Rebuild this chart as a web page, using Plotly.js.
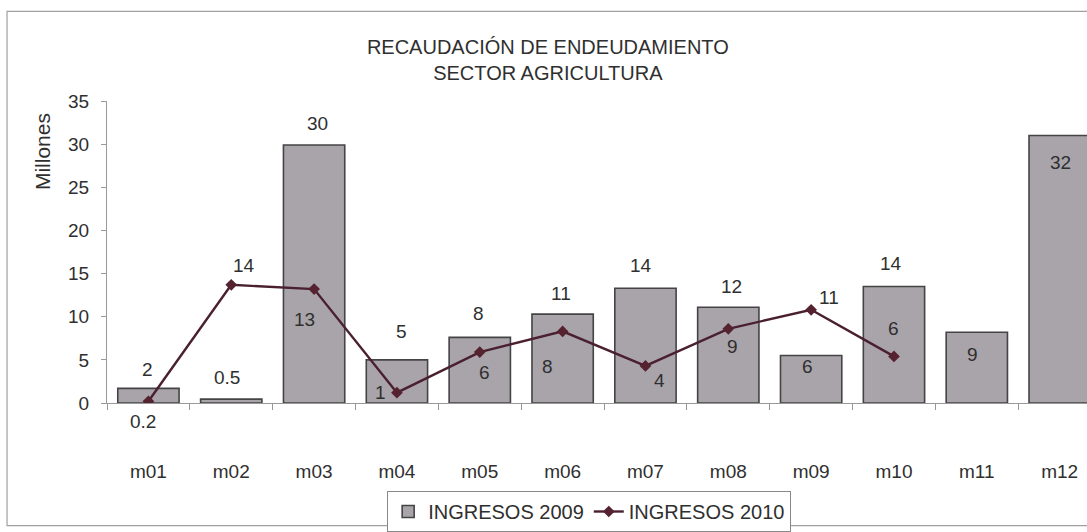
<!DOCTYPE html>
<html>
<head>
<meta charset="utf-8">
<script src="https://cdn.plot.ly/plotly-3.0.1.min.js"></script>
<style>
  html, body { margin: 0; padding: 0; background: #fff; }
  #chart { width: 1087px; height: 532px; }
</style>
</head>
<body>
<div id="chart"></div>
<script>
// ---- data ----
const months = ['m01','m02','m03','m04','m05','m06','m07','m08','m09','m10','m11','m12'];
const ingresos2009 = [1.7, 0.45, 29.9, 5.0, 7.6, 10.3, 13.3, 11.1, 5.5, 13.5, 8.2, 31.0];
const labels2009 = ['2','0.5','30','5','8','11','14','12','6','14','9','32'];
const months2010 = ['m01','m02','m03','m04','m05','m06','m07','m08','m09','m10'];
const ingresos2010 = [0.2, 13.7, 13.2, 1.2, 5.9, 8.3, 4.3, 8.6, 10.8, 5.4];
const labels2010 = ['0.2','14','13','1','6','8','4','9','11','6'];
const yTicks = [0, 5, 10, 15, 20, 25, 30, 35];

// ---- label offsets (px) ----
const off2009x = [-1, -4, 3, 5, -1, -2, -4, 3, -4, -3, -4, 1];
const off2009y = [19, 22, 22, 28, 24, 21, 23, 21, -11, 23, -22, -27];
const off2010x = [-5, 13, -10, -16, 5, -15, 14, 4, 18, 0];
const off2010y = [-20, 19, -30, 0, -20, -35, -15, -18, 12, 28];

const FONT = 'Liberation Sans, Arial, sans-serif';
const TXT = '#2f2f2f';

const traces = [
  {
    type: 'bar', name: 'INGRESOS 2009', x: months, y: ingresos2009,
    marker: { color: '#a9a4aa', line: { color: '#444', width: 1.6 } },
    hoverinfo: 'x+y'
  },
  {
    type: 'scatter', mode: 'lines+markers', name: 'INGRESOS 2010',
    x: months2010, y: ingresos2010,
    line: { color: '#4a2030', width: 2.4 },
    marker: { symbol: 'diamond', size: 9, color: '#55222f' },
    hoverinfo: 'x+y'
  }
];

const annotations = [];
months.forEach((m, i) => annotations.push({
  x: m, y: ingresos2009[i], xref: 'x', yref: 'y', text: labels2009[i],
  showarrow: false, xshift: off2009x[i], yshift: off2009y[i],
  font: { family: FONT, size: 19, color: TXT }
}));
months2010.forEach((m, i) => annotations.push({
  x: m, y: ingresos2010[i], xref: 'x', yref: 'y', text: labels2010[i],
  showarrow: false, xshift: off2010x[i], yshift: off2010y[i],
  font: { family: FONT, size: 19, color: TXT }
}));
annotations.push({
  xref: 'paper', yref: 'paper', x: -0.066, y: 0.832, xanchor: 'center', yanchor: 'middle',
  text: 'Millones', textangle: -90, showarrow: false,
  font: { family: FONT, size: 21, color: TXT }
});

const layout = {
  width: 1087, height: 532,
  paper_bgcolor: '#fff', plot_bgcolor: '#fff',
  margin: { l: 107, r: 0, t: 101, b: 128 },
  font: { family: FONT, color: TXT },
  title: {
    text: 'RECAUDACIÓN DE ENDEUDAMIENTO<br>SECTOR AGRICULTURA',
    font: { family: FONT, size: 20, color: '#2f2f2f' },
    x: 0.504, xanchor: 'center', xref: 'container',
    y: 0.898, yanchor: 'top', yref: 'container'
  },
  bargap: 0.26,
  showlegend: true,
  legend: {
    orientation: 'h', x: 0.492, xanchor: 'center', y: -0.29, yanchor: 'top',
    bordercolor: '#888', borderwidth: 1, bgcolor: '#fff',
    font: { family: FONT, size: 20, color: TXT }
  },
  xaxis: {
    type: 'category', range: [-0.5, 11.33],
    showline: true, linecolor: '#999', linewidth: 1,
    ticks: 'outside', ticklen: 6, tickcolor: '#999', tickson: 'boundaries',
    ticklabelstandoff: 51,
    tickfont: { family: FONT, size: 19, color: TXT },
    showgrid: false, zeroline: false, fixedrange: true
  },
  yaxis: {
    range: [0, 35], tickvals: yTicks,
    showline: true, linecolor: '#999', linewidth: 1,
    ticks: 'outside', ticklen: 5, tickcolor: '#999',
    ticklabelstandoff: 8,
    tickfont: { family: FONT, size: 19, color: TXT },
    showgrid: false, zeroline: false, fixedrange: true
  },
  shapes: [{
    type: 'rect', xref: 'paper', yref: 'paper',
    x0: -0.102, x1: 1.05, y0: -0.406, y1: 1.297,
    line: { color: '#a0a0a0', width: 1.2 }, fillcolor: 'rgba(0,0,0,0)', layer: 'below'
  }],
  annotations: annotations
};

Plotly.newPlot('chart', traces, layout, { displayModeBar: false, staticPlot: true });
</script>
</body>
</html>
